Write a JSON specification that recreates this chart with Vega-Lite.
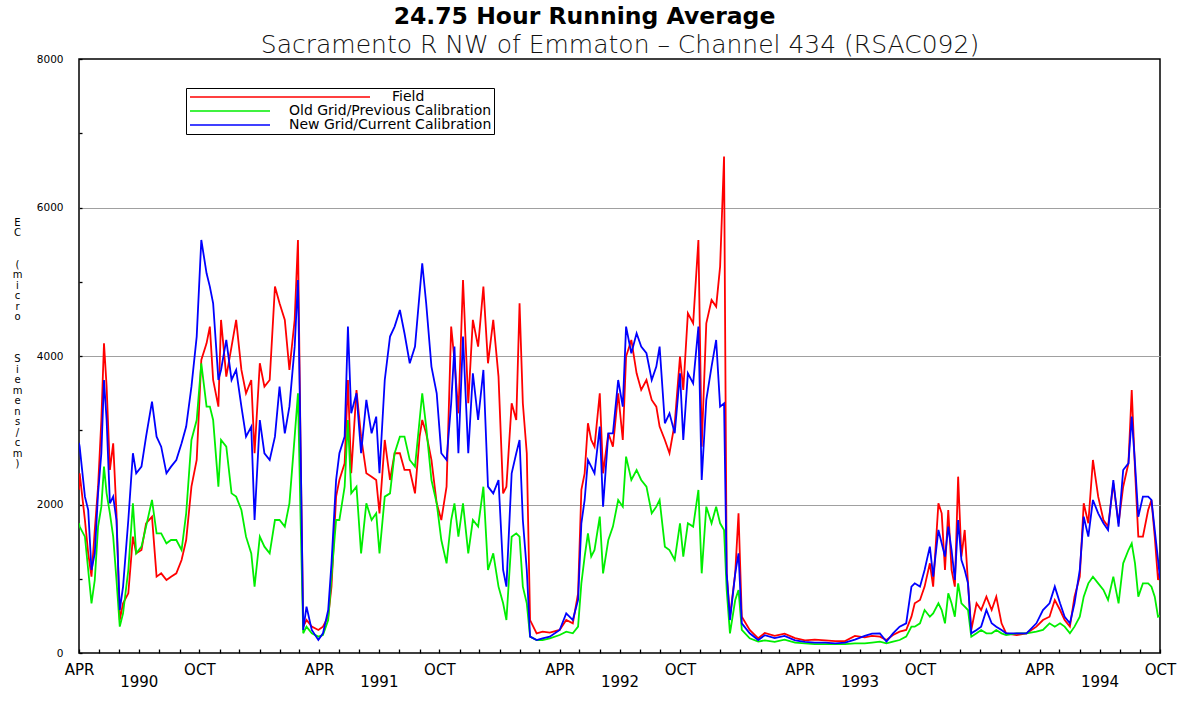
{
  "$schema": "https://vega.github.io/schema/vega-lite/v6.json",
  "autosize": "none",
  "width": 1081,
  "height": 594,
  "padding": {"left": 79, "top": 59, "right": 38, "bottom": 50},
  "background": "white",
  "config": {
    "view": {"stroke": "black", "strokeWidth": 1.5},
    "font": "DejaVu Sans"
  },
  "title": {
    "text": "24.75 Hour Running Average",
    "font": "DejaVu Sans",
    "fontSize": 23.5,
    "fontWeight": "bold",
    "color": "black",
    "anchor": "middle",
    "dx": -35,
    "offset": 4
  },
  "data": {
    "values": [
      {"d":"1990-04-01","F":2200,"O":1750,"N":2830},
      {"d":"1990-04-02","F":2420,"O":1702,"N":2779},
      {"d":"1990-04-10","F":1791,"O":1567,"N":2106},
      {"d":"1990-04-15","F":1342,"O":1118,"N":1926},
      {"d":"1990-04-20","F":1028,"O":669,"N":1118},
      {"d":"1990-04-25","F":1657,"O":983,"N":1342},
      {"d":"1990-04-30","F":2240,"O":1702,"N":2150},
      {"d":"1990-05-05","F":3138,"O":1971,"N":2690},
      {"d":"1990-05-09","F":4171,"O":2510,"N":3677},
      {"d":"1990-05-13","F":3587,"O":2150,"N":3138},
      {"d":"1990-05-18","F":2465,"O":1881,"N":2016},
      {"d":"1990-05-23","F":2824,"O":1567,"N":2106},
      {"d":"1990-05-28","F":1881,"O":983,"N":1791},
      {"d":"1990-06-02","F":444,"O":355,"N":579},
      {"d":"1990-06-07","F":669,"O":534,"N":894},
      {"d":"1990-06-15","F":804,"O":1118,"N":1791},
      {"d":"1990-06-22","F":1567,"O":2016,"N":2690},
      {"d":"1990-06-27","F":1342,"O":1342,"N":2420},
      {"d":"1990-07-05","F":1387,"O":1432,"N":2510},
      {"d":"1990-07-12","F":1747,"O":1702,"N":2914},
      {"d":"1990-07-21","F":1836,"O":2061,"N":3385},
      {"d":"1990-07-28","F":1028,"O":1612,"N":2914},
      {"d":"1990-08-04","F":1073,"O":1612,"N":2779},
      {"d":"1990-08-12","F":983,"O":1477,"N":2420},
      {"d":"1990-08-19","F":1028,"O":1522,"N":2510},
      {"d":"1990-08-27","F":1073,"O":1522,"N":2600},
      {"d":"1990-09-04","F":1253,"O":1387,"N":2824},
      {"d":"1990-09-11","F":1522,"O":1881,"N":3049},
      {"d":"1990-09-19","F":2240,"O":2869,"N":3587},
      {"d":"1990-09-27","F":2600,"O":3138,"N":4261},
      {"d":"1990-10-04","F":3947,"O":3902,"N":5563},
      {"d":"1990-10-12","F":4171,"O":3318,"N":5114},
      {"d":"1990-10-17","F":4396,"O":3318,"N":4935},
      {"d":"1990-10-22","F":3677,"O":3138,"N":4710},
      {"d":"1990-10-30","F":3318,"O":2240,"N":3677},
      {"d":"1990-11-03","F":4486,"O":2869,"N":3812},
      {"d":"1990-11-11","F":3722,"O":2779,"N":4216},
      {"d":"1990-11-19","F":4126,"O":2150,"N":3677},
      {"d":"1990-11-26","F":4486,"O":2106,"N":3812},
      {"d":"1990-12-04","F":3812,"O":1926,"N":3318},
      {"d":"1990-12-11","F":3498,"O":1567,"N":2914},
      {"d":"1990-12-19","F":3677,"O":1342,"N":3049},
      {"d":"1990-12-24","F":2690,"O":894,"N":1791},
      {"d":"1991-01-01","F":3902,"O":1567,"N":3138},
      {"d":"1991-01-08","F":3587,"O":1432,"N":2690},
      {"d":"1991-01-16","F":3677,"O":1342,"N":2600},
      {"d":"1991-01-24","F":4935,"O":1791,"N":2914},
      {"d":"1991-01-31","F":4710,"O":1791,"N":3587},
      {"d":"1991-02-08","F":4486,"O":1702,"N":2959},
      {"d":"1991-02-15","F":3812,"O":2016,"N":3318},
      {"d":"1991-02-23","F":4486,"O":2914,"N":4126},
      {"d":"1991-02-28","F":5563,"O":3498,"N":5024},
      {"d":"1991-03-04","F":2779,"O":1791,"N":2779},
      {"d":"1991-03-08","F":355,"O":265,"N":310},
      {"d":"1991-03-13","F":444,"O":355,"N":624},
      {"d":"1991-03-21","F":355,"O":265,"N":310},
      {"d":"1991-03-31","F":310,"O":220,"N":175},
      {"d":"1991-04-07","F":355,"O":242,"N":265},
      {"d":"1991-04-15","F":489,"O":444,"N":579},
      {"d":"1991-04-20","F":894,"O":1028,"N":1208},
      {"d":"1991-04-27","F":2106,"O":1791,"N":2330},
      {"d":"1991-05-02","F":2330,"O":1791,"N":2690},
      {"d":"1991-05-10","F":2555,"O":2240,"N":2914},
      {"d":"1991-05-15","F":3677,"O":3138,"N":4396},
      {"d":"1991-05-20","F":2420,"O":2150,"N":3228},
      {"d":"1991-05-28","F":3542,"O":2240,"N":3498},
      {"d":"1991-06-04","F":2914,"O":1342,"N":2690},
      {"d":"1991-06-12","F":2420,"O":2016,"N":3408},
      {"d":"1991-06-20","F":2375,"O":1791,"N":2959},
      {"d":"1991-06-27","F":2330,"O":1881,"N":3183},
      {"d":"1991-07-02","F":1881,"O":1342,"N":2420},
      {"d":"1991-07-10","F":2869,"O":2106,"N":3677},
      {"d":"1991-07-18","F":2330,"O":2150,"N":4261},
      {"d":"1991-07-25","F":2690,"O":2690,"N":4396},
      {"d":"1991-08-02","F":2690,"O":2914,"N":4620},
      {"d":"1991-08-09","F":2465,"O":2914,"N":4306},
      {"d":"1991-08-17","F":2465,"O":2600,"N":3902},
      {"d":"1991-08-25","F":2150,"O":2510,"N":4126},
      {"d":"1991-09-01","F":2914,"O":3138,"N":4845},
      {"d":"1991-09-05","F":3138,"O":3498,"N":5249},
      {"d":"1991-09-11","F":2959,"O":3049,"N":4710},
      {"d":"1991-09-19","F":2600,"O":2330,"N":3857},
      {"d":"1991-09-27","F":2016,"O":2016,"N":3498},
      {"d":"1991-10-04","F":1791,"O":1522,"N":2690},
      {"d":"1991-10-12","F":2240,"O":1208,"N":2600},
      {"d":"1991-10-19","F":4396,"O":1791,"N":3363},
      {"d":"1991-10-24","F":3947,"O":2016,"N":4126},
      {"d":"1991-10-30","F":3228,"O":1567,"N":2690},
      {"d":"1991-11-06","F":5024,"O":2016,"N":4261},
      {"d":"1991-11-14","F":3363,"O":1342,"N":2690},
      {"d":"1991-11-21","F":4486,"O":1791,"N":3767},
      {"d":"1991-11-29","F":4126,"O":1702,"N":3138},
      {"d":"1991-12-07","F":4935,"O":2240,"N":3812},
      {"d":"1991-12-14","F":3902,"O":1118,"N":2240},
      {"d":"1991-12-22","F":4486,"O":1342,"N":2150},
      {"d":"1991-12-30","F":3722,"O":894,"N":2330},
      {"d":"1992-01-06","F":2150,"O":669,"N":1118},
      {"d":"1992-01-11","F":2240,"O":444,"N":894},
      {"d":"1992-01-19","F":3363,"O":1567,"N":2420},
      {"d":"1992-01-26","F":3138,"O":1612,"N":2690},
      {"d":"1992-01-31","F":4710,"O":1567,"N":2869},
      {"d":"1992-02-05","F":3363,"O":894,"N":1791},
      {"d":"1992-02-11","F":2690,"O":669,"N":1118},
      {"d":"1992-02-16","F":444,"O":220,"N":220},
      {"d":"1992-02-26","F":265,"O":175,"N":175},
      {"d":"1992-03-06","F":287,"O":175,"N":198},
      {"d":"1992-03-17","F":274,"O":198,"N":220},
      {"d":"1992-04-01","F":310,"O":242,"N":310},
      {"d":"1992-04-11","F":444,"O":287,"N":534},
      {"d":"1992-04-21","F":400,"O":265,"N":444},
      {"d":"1992-04-29","F":804,"O":355,"N":714},
      {"d":"1992-05-04","F":2196,"O":938,"N":1747},
      {"d":"1992-05-09","F":2420,"O":1298,"N":2061},
      {"d":"1992-05-14","F":3094,"O":1612,"N":2600},
      {"d":"1992-05-19","F":2869,"O":1298,"N":2510},
      {"d":"1992-05-24","F":2779,"O":1387,"N":2420},
      {"d":"1992-06-01","F":3498,"O":1836,"N":3049},
      {"d":"1992-06-06","F":2420,"O":1073,"N":1971},
      {"d":"1992-06-14","F":2959,"O":1522,"N":2959},
      {"d":"1992-06-21","F":2779,"O":1702,"N":2959},
      {"d":"1992-06-29","F":3498,"O":2061,"N":3677},
      {"d":"1992-07-06","F":2869,"O":1971,"N":3318},
      {"d":"1992-07-11","F":3992,"O":2645,"N":4396},
      {"d":"1992-07-19","F":4216,"O":2330,"N":4037},
      {"d":"1992-07-27","F":3767,"O":2465,"N":4306},
      {"d":"1992-08-03","F":3543,"O":2330,"N":4126},
      {"d":"1992-08-11","F":3677,"O":2240,"N":4037},
      {"d":"1992-08-19","F":3408,"O":1881,"N":3677},
      {"d":"1992-08-26","F":3318,"O":1971,"N":3857},
      {"d":"1992-08-31","F":3049,"O":2061,"N":4126},
      {"d":"1992-09-08","F":2869,"O":1432,"N":3094},
      {"d":"1992-09-15","F":2690,"O":1387,"N":3228},
      {"d":"1992-09-23","F":3094,"O":1253,"N":2959},
      {"d":"1992-10-01","F":3992,"O":1747,"N":3767},
      {"d":"1992-10-06","F":3543,"O":1298,"N":2869},
      {"d":"1992-10-13","F":4575,"O":1747,"N":3767},
      {"d":"1992-10-21","F":4441,"O":1702,"N":3632},
      {"d":"1992-10-29","F":5563,"O":2196,"N":4396},
      {"d":"1992-11-03","F":2779,"O":1073,"N":2330},
      {"d":"1992-11-10","F":4441,"O":1971,"N":3408},
      {"d":"1992-11-18","F":4755,"O":1747,"N":3857},
      {"d":"1992-11-25","F":4665,"O":1971,"N":4216},
      {"d":"1992-12-01","F":5204,"O":1747,"N":3318},
      {"d":"1992-12-07","F":6686,"O":1657,"N":3363},
      {"d":"1992-12-11","F":1073,"O":849,"N":1073},
      {"d":"1992-12-16","F":489,"O":265,"N":444},
      {"d":"1992-12-24","F":1073,"O":714,"N":1073},
      {"d":"1992-12-29","F":1881,"O":849,"N":1343},
      {"d":"1993-01-03","F":489,"O":310,"N":400},
      {"d":"1993-01-15","F":310,"O":198,"N":265},
      {"d":"1993-01-28","F":198,"O":153,"N":175},
      {"d":"1993-02-07","F":270,"O":170,"N":240},
      {"d":"1993-02-22","F":230,"O":150,"N":200},
      {"d":"1993-03-09","F":260,"O":180,"N":230},
      {"d":"1993-03-25","F":200,"O":140,"N":170},
      {"d":"1993-04-09","F":170,"O":130,"N":150},
      {"d":"1993-04-24","F":180,"O":120,"N":140},
      {"d":"1993-05-10","F":170,"O":120,"N":140},
      {"d":"1993-05-25","F":160,"O":120,"N":130},
      {"d":"1993-06-09","F":160,"O":120,"N":140},
      {"d":"1993-06-24","F":230,"O":130,"N":180},
      {"d":"1993-07-09","F":210,"O":130,"N":230},
      {"d":"1993-07-20","F":230,"O":140,"N":260},
      {"d":"1993-08-01","F":220,"O":153,"N":265},
      {"d":"1993-08-11","F":175,"O":130,"N":153},
      {"d":"1993-08-21","F":242,"O":153,"N":265},
      {"d":"1993-08-31","F":287,"O":175,"N":355},
      {"d":"1993-09-10","F":310,"O":220,"N":400},
      {"d":"1993-09-18","F":489,"O":355,"N":894},
      {"d":"1993-09-23","F":669,"O":355,"N":938},
      {"d":"1993-10-01","F":714,"O":400,"N":894},
      {"d":"1993-10-08","F":894,"O":579,"N":1118},
      {"d":"1993-10-16","F":1208,"O":489,"N":1432},
      {"d":"1993-10-21","F":894,"O":534,"N":1028},
      {"d":"1993-10-29","F":2016,"O":669,"N":1657},
      {"d":"1993-11-03","F":1881,"O":579,"N":1477},
      {"d":"1993-11-08","F":1118,"O":400,"N":1298},
      {"d":"1993-11-13","F":1926,"O":804,"N":1702},
      {"d":"1993-11-18","F":1118,"O":669,"N":1387},
      {"d":"1993-11-23","F":894,"O":489,"N":983},
      {"d":"1993-11-28","F":2375,"O":938,"N":1791},
      {"d":"1993-12-03","F":1298,"O":669,"N":1253},
      {"d":"1993-12-08","F":1657,"O":624,"N":1118},
      {"d":"1993-12-13","F":938,"O":579,"N":938},
      {"d":"1993-12-18","F":310,"O":220,"N":265},
      {"d":"1993-12-26","F":669,"O":265,"N":310},
      {"d":"1994-01-02","F":579,"O":310,"N":355},
      {"d":"1994-01-10","F":759,"O":265,"N":579},
      {"d":"1994-01-18","F":579,"O":265,"N":400},
      {"d":"1994-01-25","F":759,"O":310,"N":355},
      {"d":"1994-02-02","F":400,"O":265,"N":310},
      {"d":"1994-02-09","F":265,"O":242,"N":265},
      {"d":"1994-02-25","F":242,"O":265,"N":265},
      {"d":"1994-03-12","F":265,"O":265,"N":265},
      {"d":"1994-03-27","F":355,"O":287,"N":400},
      {"d":"1994-04-06","F":444,"O":310,"N":579},
      {"d":"1994-04-16","F":489,"O":400,"N":669},
      {"d":"1994-04-24","F":714,"O":355,"N":894},
      {"d":"1994-05-02","F":579,"O":400,"N":669},
      {"d":"1994-05-09","F":444,"O":355,"N":489},
      {"d":"1994-05-17","F":355,"O":265,"N":400},
      {"d":"1994-05-24","F":759,"O":355,"N":669},
      {"d":"1994-06-01","F":1028,"O":489,"N":1118},
      {"d":"1994-06-07","F":2016,"O":759,"N":1836},
      {"d":"1994-06-14","F":1747,"O":938,"N":1567},
      {"d":"1994-06-21","F":2600,"O":1028,"N":2061},
      {"d":"1994-06-29","F":2106,"O":938,"N":1881},
      {"d":"1994-07-07","F":1791,"O":849,"N":1747},
      {"d":"1994-07-14","F":1702,"O":714,"N":1657},
      {"d":"1994-07-22","F":2285,"O":1028,"N":2330},
      {"d":"1994-07-30","F":1747,"O":669,"N":1702},
      {"d":"1994-08-06","F":2240,"O":1208,"N":2465},
      {"d":"1994-08-14","F":2555,"O":1387,"N":2555},
      {"d":"1994-08-19","F":3543,"O":1477,"N":3183},
      {"d":"1994-08-24","F":2465,"O":1208,"N":2555},
      {"d":"1994-08-29","F":1567,"O":759,"N":1836},
      {"d":"1994-09-05","F":1567,"O":938,"N":2106},
      {"d":"1994-09-13","F":1926,"O":938,"N":2106},
      {"d":"1994-09-18","F":2061,"O":894,"N":2061},
      {"d":"1994-09-23","F":1567,"O":759,"N":1657},
      {"d":"1994-09-28","F":983,"O":489,"N":1253},
      {"d":"1994-10-01","F":1100,"O":500,"N":1000}
    ]
  },
  "resolve": {"axis": {"x": "independent"}},
  "layer": [
    {
      "mark": {"type": "line", "strokeWidth": 1.8, "clip": true},
      "encoding": {
        "x": {
          "field": "d", "type": "temporal",
          "scale": {"type": "utc", "domain": [{"year": 1990, "month": 4, "date": 1, "utc": true}, {"year": 1994, "month": 10, "date": 1, "utc": true}], "nice": false},
          "axis": {
            "orient": "bottom",
            "title": null,
            "domain": false,
            "grid": false,
            "offset": -4,
            "tickCount": {"interval": "month", "step": 1},
            "ticks": true,
            "tickColor": "black",
            "tickWidth": 1.3,
            "tickSize": 4,
            "labelExpr": "utcmonth(datum.value) == 3 ? 'APR' : utcmonth(datum.value) == 9 ? 'OCT' : utcmonth(datum.value) == 6 ? ['', '' + utcyear(datum.value)] : ''",
            "labelOverlap": false,
            "labelFlush": false,
            "labelBound": false,
            "labelFont": "DejaVu Sans",
            "labelFontSize": 15,
            "labelColor": "black",
            "labelLineHeight": 12,
            "labelPadding": 9
          }
        },
        "y": {
          "field": "F", "type": "quantitative",
          "scale": {"domain": [0, 8000], "nice": false},
          "axis": {
            "values": [0, 500, 1000, 1500, 2000, 2500, 3000, 3500, 4000, 4500, 5000, 5500, 6000, 6500, 7000, 7500, 8000],
            "format": "d",
            "labelExpr": "datum.value % 2000 == 0 ? datum.label : ''",
            "domain": false,
            "grid": true,
            "gridColor": "#a0a0a0",
            "gridOpacity": {"condition": {"test": "datum.value % 2000 == 0 && datum.value > 0 && datum.value < 8000", "value": 1}, "value": 0},
            "offset": -3,
            "ticks": true,
            "tickColor": "black",
            "tickWidth": 1.3,
            "tickSize": 3,
            "labelFont": "DejaVu Sans",
            "labelFontSize": 10.5,
            "labelColor": "black",
            "labelPadding": 16,
            "title": ["E", "C", "\u2800", "\u2800", "(", "m", "i", "c", "r", "o", "\u2800", "\u2800", "\u2800", "S", "i", "e", "m", "e", "n", "s", "/", "c", "m", ")"],
            "titleAngle": 0,
            "titleX": -65,
            "titleY": 163,
            "titleAlign": "center",
            "titleBaseline": "middle",
            "titleLineHeight": 10.5,
            "titleFont": "DejaVu Sans",
            "titleFontSize": 10,
            "titleFontWeight": "normal",
            "titleColor": "black"
          }
        },
        "color": {
          "datum": "Field",
          "type": "nominal",
          "scale": {"domain": ["Field", "Old Grid/Previous Calibration", "New Grid/Current Calibration"], "range": ["#ff0000", "#00ee00", "#0000ff"]},
          "legend": {
            "title": null,
            "orient": "none",
            "legendX": 107,
            "legendY": 29,
            "direction": "vertical",
            "strokeColor": "black",
            "padding": 2,
            "symbolSize": 100,
            "rowPadding": -8,
            "labelFont": "DejaVu Sans",
            "labelFontSize": 14,
            "labelLimit": 0,
            "labelColor": "black",
            "labelOffset": 87,
            "encode": {
              "symbols": {"update": {"shape": {"signal": "datum.value === 'Field' ? 'M-1,0H35' : 'M-1,0H15'"}}},
              "labels": {"update": {"dx": {"signal": "datum.value === 'Field' ? 103 : 0"}}}
            }
          }
        }
      }
    },
    {
      "mark": {"type": "line", "strokeWidth": 1.8, "clip": true},
      "encoding": {
        "x": {
          "field": "d", "type": "temporal",
          "axis": {
            "orient": "top",
            "title": "Sacramento R NW of Emmaton – Channel 434 (RSAC092)",
            "labels": false,
            "ticks": false,
            "domain": false,
            "grid": false,
            "titleFont": "DejaVu Sans",
            "titleFontSize": 25,
            "titleFontWeight": 300,
            "titleColor": "#111111",
            "titlePadding": 2
          }
        },
        "y": {"field": "O", "type": "quantitative"},
        "color": {"datum": "Old Grid/Previous Calibration", "type": "nominal"}
      }
    },
    {
      "mark": {"type": "line", "strokeWidth": 1.8, "clip": true},
      "encoding": {
        "x": {"field": "d", "type": "temporal", "axis": null},
        "y": {"field": "N", "type": "quantitative"},
        "color": {"datum": "New Grid/Current Calibration", "type": "nominal"}
      }
    }
  ]
}
